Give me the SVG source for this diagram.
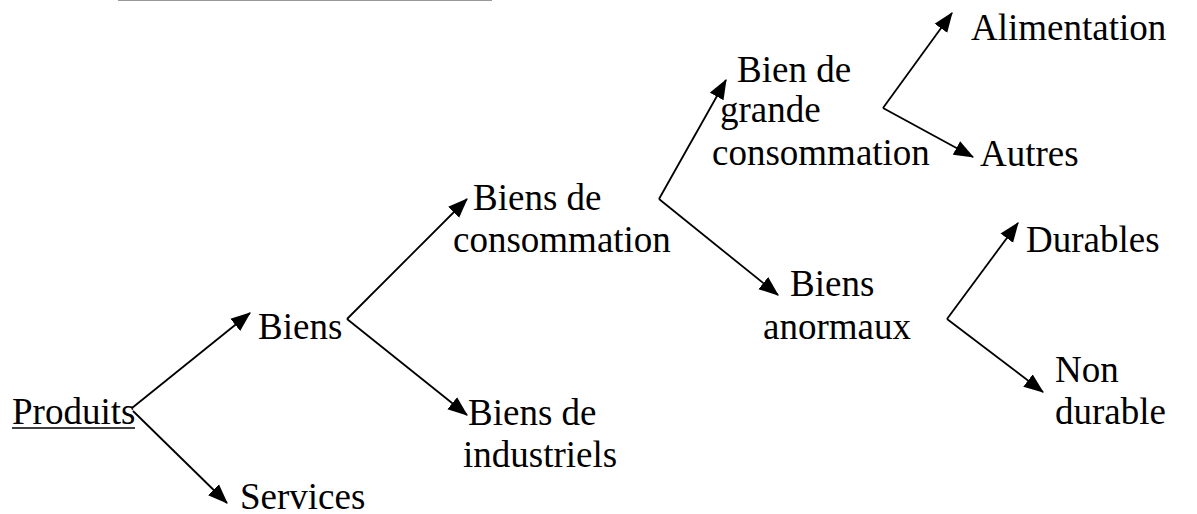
<svg xmlns="http://www.w3.org/2000/svg" width="1197" height="514" viewBox="0 0 1197 514">
<style>
  text { font-family: "Liberation Serif", "Times New Roman", serif; font-size: 37px; fill: #000; }
  .conn line { stroke: #000; stroke-width: 1.8; fill: none; marker-end: url(#arr); }
</style>
<defs>
  <marker id="arr" markerUnits="userSpaceOnUse" markerWidth="20" markerHeight="16" viewBox="0 0 18 14" refX="17" refY="7" orient="auto">
    <path d="M0,0 L18,7 L0,14 z" fill="#000"/>
  </marker>
</defs>
<rect width="1197" height="514" fill="#fff"/>
<line x1="118" y1="0.5" x2="492" y2="0.5" stroke="#999" stroke-width="1.2"/>
<g class="conn" id="connectors">
  <line x1="132" y1="408" x2="250" y2="313"/>
  <line x1="133" y1="411" x2="227" y2="503"/>
  <line x1="347" y1="319" x2="467" y2="199"/>
  <line x1="347" y1="319" x2="467" y2="415"/>
  <line x1="659" y1="199" x2="726" y2="80"/>
  <line x1="659" y1="199" x2="778" y2="295"/>
  <line x1="883" y1="108" x2="952" y2="13"/>
  <line x1="883" y1="108" x2="973" y2="157"/>
  <line x1="947" y1="319" x2="1018" y2="223"/>
  <line x1="947" y1="319" x2="1043" y2="392"/>
</g>
<g id="produits"><text x="12" y="424">Produits</text><line x1="12" y1="428" x2="135" y2="428" stroke="#000" stroke-width="1.6"/></g>
<g id="biens"><text x="258" y="339">Biens</text></g>
<g id="services"><text x="240" y="509">Services</text></g>
<g id="biens-industriels"><text x="468" y="425">Biens de</text><text x="463" y="467">industriels</text></g>
<g id="biens-consommation"><text x="473" y="210">Biens de</text><text x="453" y="252">consommation</text></g>
<g id="bien-grande-consommation"><text x="737" y="82">Bien de</text><text x="720" y="122">grande</text><text x="712" y="165">consommation</text></g>
<g id="alimentation"><text x="971" y="40">Alimentation</text></g>
<g id="autres"><text x="980" y="166">Autres</text></g>
<g id="biens-anormaux"><text x="790" y="296">Biens</text><text x="763" y="339">anormaux</text></g>
<g id="durables"><text x="1026" y="252">Durables</text></g>
<g id="non-durable"><text x="1055" y="382">Non</text><text x="1055" y="424">durable</text></g>
</svg>
